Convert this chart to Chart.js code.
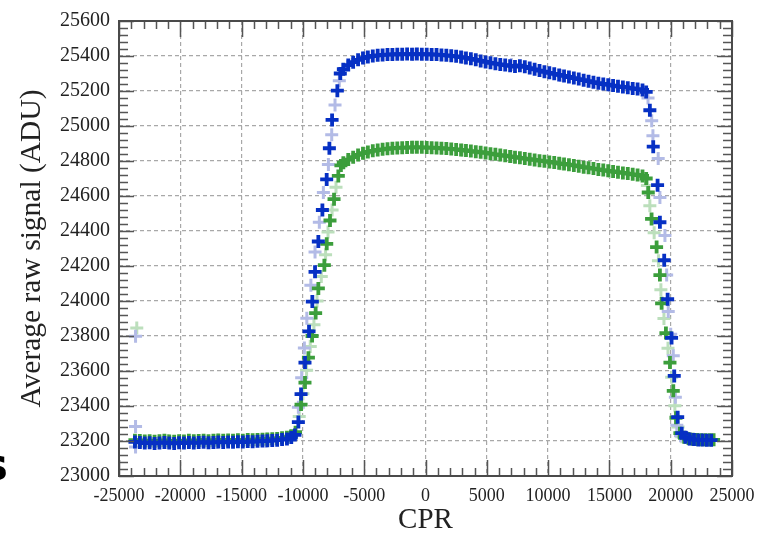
<!DOCTYPE html>
<html>
<head>
<meta charset="utf-8">
<script src="https://cdn.jsdelivr.net/npm/chart.js@4"></script>
<style>
  html, body { margin: 0; padding: 0; background: #fff; }
</style>
</head>
<body>
<canvas id="cprChart" width="771" height="533"></canvas>
<script>
// readings taken off the plot: CPR position vs average raw signal
const blueX = [-23700,-23300,-22900,-22500,-22100,-21700,-21300,-20900,-20500,-20100,
  -19700,-19300,-18900,-18500,-18100,-17700,-17300,-16900,-16500,-16100,
  -15700,-15300,-14900,-14500,-14100,-13700,-13300,-12900,-12500,-12100,
  -11700,-11300,-10950,-10650,
  -10370,-10150,-9830,-9500,-9230,-9010,-8740,-8410,-8060,-7840,-7620,-7190,-6950,
  -6700,-6300,-5900,-5500,-5100,-4700,-4300,-3900,-3500,-3100,-2700,-2300,-1900,-1500,-1100,-700,-300,
  100,500,900,1300,1700,2100,2500,2900,3300,3700,4100,4500,4900,5300,5700,6100,6500,6900,7300,7700,
  8100,8500,8900,9300,9700,10100,10500,10900,11300,11700,12100,12500,12900,13300,13700,14100,14500,
  14900,15300,15700,16100,16500,16900,17300,17700,18000,
  18300,18575,18930,19120,19470,19750,20070,20290,20570,20900,
  21200,21550,21900,22250,22600,22950,23300];
const blueY = [23195,23192,23188,23190,23186,23189,23192,23188,23186,23190,
  23188,23192,23189,23191,23193,23190,23192,23194,23192,23195,
  23193,23196,23194,23197,23196,23198,23200,23201,23203,23205,
  23208,23212,23220,23235,
  23308,23468,23648,23827,23997,24167,24340,24520,24695,24873,25035,25202,25300,
  25325,25348,25365,25378,25388,25395,25400,25404,25406,25408,25409,25410,25410,25411,25410,25411,25410,
  25410,25409,25408,25406,25404,25401,25398,25394,25389,25384,25378,25372,25366,25361,25356,25352,25348,25344,25340,25345,
  25338,25331,25324,25317,25310,25304,25298,25292,25286,25280,25274,25268,25262,25256,25250,25245,25240,
  25236,25231,25227,25223,25219,25215,25211,25206,25195,
  25090,24882,24662,24450,24233,24010,23789,23572,23336,23245,
  23222,23212,23208,23206,23206,23205,23205];

const greenX = [-23700,-23300,-22900,-22500,-22100,-21700,-21300,-20900,-20500,-20100,
  -19700,-19300,-18900,-18500,-18100,-17700,-17300,-16900,-16500,-16100,
  -15700,-15300,-14900,-14500,-14100,-13700,-13300,-12900,-12500,-12100,
  -11700,-11300,-10950,-10600,
  -10150,-9830,-9550,-9250,-8960,-8740,-8250,-8056,-7790,-7460,-7110,-6900,
  -6700,-6300,-5900,-5500,-5100,-4700,-4300,-3900,-3500,-3100,-2700,-2300,-1900,-1500,-1100,-700,-300,
  100,500,900,1300,1700,2100,2500,2900,3300,3700,4100,4500,4900,5300,5700,6100,6500,6900,7300,7700,
  8100,8500,8900,9300,9700,10100,10500,10900,11300,11700,12100,12500,12900,13300,13700,14100,14500,
  14900,15300,15700,16100,16500,16900,17300,17700,18000,
  18170,18440,18850,19120,19260,19610,19940,20210,20430,20750,
  21100,21450,21800,22150,22500,22850,23200,23500];
const greenY = [23205,23203,23200,23202,23199,23201,23204,23200,23199,23202,
  23200,23204,23201,23203,23205,23202,23204,23206,23204,23206,
  23205,23207,23205,23208,23207,23209,23210,23211,23213,23215,
  23218,23222,23230,23250,
  23408,23534,23676,23800,23931,24072,24205,24327,24460,24582,24715,24775,
  24790,24808,24822,24835,24845,24852,24858,24863,24867,24870,24873,24875,24876,24877,24878,24878,24878,
  24877,24876,24875,24873,24871,24869,24866,24863,24860,24857,24853,24850,24846,24842,24838,24834,24830,24826,24822,24818,
  24814,24810,24806,24802,24799,24795,24791,24787,24783,24779,24775,24770,24765,24761,24757,24752,24748,
  24744,24740,24736,24732,24728,24724,24720,24715,24700,
  24620,24469,24308,24148,23987,23817,23648,23487,23333,23245,
  23222,23214,23210,23208,23207,23207,23207,23207];

const paleBlueX = [-23650,-23650,-23650,-21000,-17000,-13000,
  -10370,-10100,-9880,-9680,-9350,-9010,-8660,-8330,-7920,-7650,-7380,-7030,
  -5000,-1000,3000,7000,11000,15000,
  18150,18450,18550,18980,19120,19530,19670,19800,20000,20210,20380,20500,20800,21500];
const paleBlueY = [23799,23283,23166,23192,23192,23198,
  23393,23562,23732,23902,24090,24280,24450,24620,24780,24950,25120,25258,
  25390,25410,25392,25352,25288,25233,
  25160,25030,24945,24815,24592,24375,24148,23940,23810,23687,23450,23290,23230,23210];

const paleGreenX = [-23550,-21000,-17000,-13000,
  -10300,-10000,-9700,-9400,-9100,-8850,-8500,-8150,-7950,-7620,-7300,
  -5000,-1000,3000,7000,11000,15000,
  18100,18300,18650,19000,19200,19450,19780,20080,20340,20600,20900];
const paleGreenY = [23846,23203,23205,23210,
  23340,23470,23605,23740,23865,24000,24140,24265,24395,24520,24650,
  24843,24878,24861,24826,24785,24742,
  24660,24545,24390,24230,24065,23900,23730,23565,23402,23280,23225];

const xTicks = [-25000,-20000,-15000,-10000,-5000,0,5000,10000,15000,20000,25000];
const yTicks = [23000,23200,23400,23600,23800,24000,24200,24400,24600,24800,25000,25200,25400,25600];

function pairs(xs, ys) {
  return xs.map((x, i) => ({ x: x, y: ys[i] }));
}

function crossSet(label, xs, ys, color, width) {
  return {
    label: label,
    data: pairs(xs, ys),
    pointStyle: 'cross',
    pointRadius: 6.5,
    pointBorderWidth: width,
    borderColor: color,
    backgroundColor: color,
    showLine: false
  };
}

// frame, inward tick marks on all four sides, and the clipped letter on the left
const framePlugin = {
  id: 'frame',
  afterDraw(chart) {
    const ctx = chart.ctx;
    const a = chart.chartArea;
    const xs = chart.scales.x, ys = chart.scales.y;
    ctx.save();
    ctx.strokeStyle = '#555';
    ctx.lineWidth = 1.5;
    ctx.beginPath();
    for (let v = -25000; v <= 25000; v += 1000) {
      const px = Math.round(xs.getPixelForValue(v)) + 0.5;
      const len = v % 5000 === 0 ? 16 : 8;
      ctx.moveTo(px, a.bottom); ctx.lineTo(px, a.bottom - len);
      ctx.moveTo(px, a.top); ctx.lineTo(px, a.top + len);
    }
    for (let v = 23000; v <= 25600; v += 40) {
      const py = Math.round(ys.getPixelForValue(v)) + 0.5;
      const len = v % 200 === 0 ? 15 : 9;
      ctx.moveTo(a.left, py); ctx.lineTo(a.left + len, py);
      ctx.moveTo(a.right, py); ctx.lineTo(a.right - len, py);
    }
    ctx.stroke();
    ctx.strokeStyle = '#4a4a4a';
    ctx.lineWidth = 2;
    ctx.strokeRect(a.left, a.top, a.right - a.left, a.bottom - a.top);
    ctx.fillStyle = '#000';
    ctx.font = 'bold 44px "DejaVu Sans"';
    ctx.textAlign = 'right';
    ctx.textBaseline = 'alphabetic';
    ctx.fillText('s', 8, 480);
    ctx.restore();
  }
};

new Chart(document.getElementById('cprChart'), {
  type: 'scatter',
  data: {
    datasets: [
      crossSet('blue', blueX, blueY, '#0630c4', 3.8),
      crossSet('green', greenX, greenY, '#3c9e3c', 3.8),
      crossSet('pale blue', paleBlueX, paleBlueY, '#b3bbe6', 3),
      crossSet('pale green', paleGreenX, paleGreenY, '#bcdfbc', 3)
    ]
  },
  options: {
    responsive: false,
    animation: false,
    events: [],
    layout: { padding: { left: 0, right: 39, top: 17, bottom: 0 } },
    plugins: {
      legend: { display: false },
      tooltip: { enabled: false }
    },
    scales: {
      x: {
        type: 'linear',
        min: -25000,
        max: 25000,
        afterFit(scale) { scale.height = 57; },
        afterBuildTicks(scale) { scale.ticks = xTicks.map(v => ({ value: v })); },
        grid: { color: '#a8a8a8', lineWidth: 1.2, drawTicks: false },
        border: { display: false, dash: [4, 3] },
        ticks: {
          padding: 9,
          color: '#222',
          font: { family: '"Liberation Serif"', size: 18 },
          callback: v => String(v)
        },
        title: {
          display: true,
          text: 'CPR',
          color: '#222',
          font: { family: '"Liberation Serif"', size: 29, lineHeight: 0.85 },
          padding: { top: 0, bottom: 0 }
        }
      },
      y: {
        type: 'linear',
        min: 23000,
        max: 25600,
        afterFit(scale) { scale.width = 119; },
        afterBuildTicks(scale) { scale.ticks = yTicks.map(v => ({ value: v })); },
        grid: { color: '#a8a8a8', lineWidth: 1.2, drawTicks: false },
        border: { display: false, dash: [4, 3] },
        ticks: {
          padding: 9,
          color: '#222',
          font: { family: '"Liberation Serif"', size: 20 },
          callback: v => String(v)
        },
        title: {
          display: true,
          text: 'Average raw signal (ADU)',
          color: '#222',
          font: { family: '"Liberation Serif"', size: 29.5 },
          padding: { top: 15, bottom: 0 }
        }
      }
    }
  },
  plugins: [framePlugin]
});
</script>
</body>
</html>
